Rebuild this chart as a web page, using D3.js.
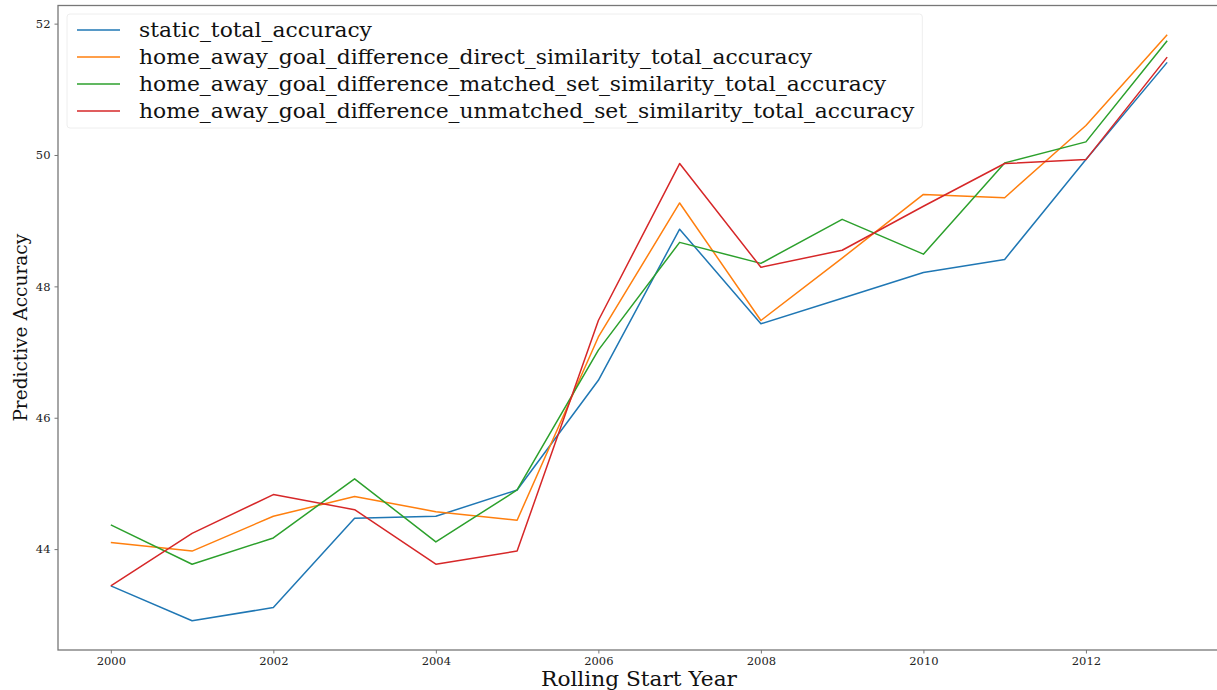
<!DOCTYPE html>
<html>
<head>
<meta charset="utf-8">
<script src="https://cdn.jsdelivr.net/npm/d3@7"></script>
<style>
  html, body { margin: 0; padding: 0; background: #fff; }
  svg text { font-family: "DejaVu Serif", serif; }
</style>
</head>
<body>
<svg id="chart" width="1217" height="690"></svg>
<script>
// Rolling start years
const years = [2000, 2001, 2002, 2003, 2004, 2005, 2006, 2007, 2008, 2009, 2010, 2011, 2012, 2013];

// Accuracy per model (%)
const staticTotal = [43.44, 42.91, 43.11, 44.47, 44.50, 44.90, 46.57, 48.87, 47.43, 47.82, 48.21, 48.41, 49.93, 51.41];
const directSimilarity = [44.10, 43.97, 44.50, 44.80, 44.57, 44.44, 47.23, 49.27, 47.48, 48.43, 49.40, 49.35, 50.45, 51.83];
const matchedSetSimilarity = [44.37, 43.77, 44.17, 45.07, 44.11, 44.90, 47.03, 48.67, 48.35, 49.02, 48.49, 49.88, 50.20, 51.74];
const unmatchedSetSimilarity = [43.44, 44.24, 44.83, 44.60, 43.77, 43.97, 47.48, 49.87, 48.29, 48.55, 49.22, 49.87, 49.93, 51.49];

const seriesNames = [
  "static_total_accuracy",
  "home_away_goal_difference_direct_similarity_total_accuracy",
  "home_away_goal_difference_matched_set_similarity_total_accuracy",
  "home_away_goal_difference_unmatched_set_similarity_total_accuracy"
];
const seriesColors = ["#1f77b4", "#ff7f0e", "#2ca02c", "#d62728"];
const yTicks = [44, 46, 48, 50, 52];
const xTicks = [2000, 2002, 2004, 2006, 2008, 2010, 2012];

const series = [staticTotal, directSimilarity, matchedSetSimilarity, unmatchedSetSimilarity]
  .map((vals, i) => ({ name: seriesNames[i], color: seriesColors[i], values: vals }));

const svg = d3.select("#chart");
const plot = { left: 58, right: 1220, top: 5.5, bottom: 650 };
// the figure is a little wider than tall, so text glyphs are stretched horizontally
const stretch = 1.08;

// 5% padding on both axes, like a default matplotlib figure
const allVals = series.flatMap(s => s.values);
const yMin = d3.min(allVals), yMax = d3.max(allVals);
const yPad = (yMax - yMin) * 0.05;
const xPad = (d3.max(years) - d3.min(years)) * 0.05;

const x = d3.scaleLinear()
  .domain([d3.min(years) - xPad, d3.max(years) + xPad])
  .range([plot.left, plot.right]);
const y = d3.scaleLinear()
  .domain([yMin - yPad, yMax + yPad])
  .range([plot.bottom, plot.top]);

// Lines
const line = d3.line()
  .x((d, i) => x(years[i]))
  .y(d => y(d));

const lines = svg.append("g");
series.forEach(s => {
  lines.append("path")
    .datum(s.values)
    .attr("fill", "none")
    .attr("stroke", s.color)
    .attr("stroke-width", 1.5)
    .attr("stroke-linejoin", "round")
    .attr("d", line);
});

// Axes
const axisColor = "#777";
const xAxis = svg.append("g")
  .attr("transform", `translate(0,${plot.bottom})`)
  .call(d3.axisBottom(x).tickValues(xTicks).tickFormat(d3.format("d")).tickSize(3.5).tickPadding(3));
const yAxis = svg.append("g")
  .attr("transform", `translate(${plot.left},0)`)
  .call(d3.axisLeft(y).tickValues(yTicks).tickFormat(d3.format("d")).tickSize(3.5).tickPadding(4));

[xAxis, yAxis].forEach(g => {
  g.select(".domain").remove();
  g.selectAll(".tick line").attr("stroke", axisColor);
  g.selectAll(".tick text")
    .attr("fill", "#222")
    .style("font-family", "'DejaVu Serif', serif")
    .style("font-size", "11.5px");
});

// Frame (top, bottom, left spines; right edge falls outside the view)
svg.append("rect")
  .attr("x", plot.left)
  .attr("y", plot.top)
  .attr("width", plot.right - plot.left)
  .attr("height", plot.bottom - plot.top)
  .attr("fill", "none")
  .attr("stroke", axisColor)
  .attr("stroke-width", 1.3);

// Axis titles
svg.append("text")
  .attr("transform", `translate(${(plot.left + plot.right) / 2},686) scale(${stretch * 1.03},1)`)
  .attr("text-anchor", "middle")
  .attr("fill", "#111")
  .style("font-size", "19.5px")
  .text("Rolling Start Year");

svg.append("text")
  .attr("transform", `translate(27,${(plot.top + plot.bottom) / 2}) rotate(-90)`)
  .attr("text-anchor", "middle")
  .attr("fill", "#111")
  .style("font-size", "18.5px")
  .text("Predictive Accuracy");

// Legend
const legend = svg.append("g");
const legendBox = legend.append("rect")
  .attr("x", 67)
  .attr("y", 14)
  .attr("rx", 3)
  .attr("fill", "rgba(255,255,255,0.8)")
  .attr("stroke", "#eee")
  .attr("stroke-width", 1);

const legendScale = 1.12;
let maxW = 0;
series.forEach((s, i) => {
  const cy = 30 + i * 27;
  legend.append("line")
    .attr("x1", 77).attr("x2", 120)
    .attr("y1", cy).attr("y2", cy)
    .attr("stroke", s.color)
    .attr("stroke-width", 1.5);
  const t = legend.append("text")
    .attr("transform", `translate(139,${cy}) scale(${legendScale},1)`)
    .attr("dy", "0.35em")
    .attr("fill", "#111")
    .style("font-size", "19.5px")
    .text(s.name);
  maxW = Math.max(maxW, t.node().getComputedTextLength() * legendScale);
});
legendBox
  .attr("width", 139 + maxW + 8 - 67)
  .attr("height", 114);
</script>
</body>
</html>
